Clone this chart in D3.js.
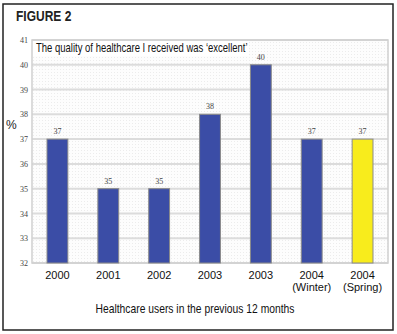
<!DOCTYPE html>
<html>
<head>
<meta charset="utf-8">
<script src="https://cdn.jsdelivr.net/npm/d3@7"></script>
<style>
  body { margin: 0; background: #fff; }
  .narrow { font-family: "Liberation Sans Narrow", "Arial Narrow", "Liberation Sans", sans-serif; }
  .serif { font-family: "Liberation Serif", "DejaVu Serif", serif; }
</style>
</head>
<body>
<div id="chart"></div>
<script>
// data
var categories = ["2000", "2001", "2002", "2003a", "2003b", "2004w", "2004s"];
var catLines = [["2000"], ["2001"], ["2002"], ["2003"], ["2003"], ["2004", "(Winter)"], ["2004", "(Spring)"]];
var values = [37, 35, 35, 38, 40, 37, 37];
var barColors = ["#3b4da6", "#3b4da6", "#3b4da6", "#3b4da6", "#3b4da6", "#3b4da6", "#f8ec1c"];
var yTicks = [32, 33, 34, 35, 36, 37, 38, 39, 40, 41];

var width = 397;
var height = 334;

var plotLeft = 32;
var plotRight = 388;
var plotTop = 40;
var plotBottom = 263;

var svg = d3.select("#chart")
  .append("svg")
  .attr("width", width)
  .attr("height", height);

// outer frame
svg.append("rect")
  .attr("x", 3).attr("y", 4)
  .attr("width", 390).attr("height", 326)
  .attr("fill", "none")
  .attr("stroke", "#222")
  .attr("stroke-width", 1.5);

svg.append("text")
  .attr("transform", "translate(16,21) scale(0.8,1)")
  .attr("class", "narrow")
  .attr("font-size", 15)
  .attr("font-weight", "bold")
  .attr("fill", "#222")
  .text("FIGURE 2");

// scales
var xScale = d3.scaleBand()
  .domain(categories)
  .range([plotLeft, plotRight])
  .paddingInner(0.59)
  .paddingOuter(0.295);

var yScale = d3.scaleLinear()
  .domain([32, 41])
  .range([plotBottom, plotTop]);

// plot background (light dotted)
var defs = svg.append("defs");
var pat = defs.append("pattern")
  .attr("id", "dots")
  .attr("width", 3).attr("height", 3)
  .attr("patternUnits", "userSpaceOnUse");
pat.append("rect").attr("width", 3).attr("height", 3).attr("fill", "#fdfdfd");
pat.append("rect").attr("width", 1).attr("height", 1).attr("fill", "#ececec");

svg.append("rect")
  .attr("x", plotLeft).attr("y", plotTop)
  .attr("width", plotRight - plotLeft)
  .attr("height", plotBottom - plotTop)
  .attr("fill", "url(#dots)");

// gridlines
svg.append("g")
  .selectAll("line")
  .data(yTicks)
  .enter()
  .append("line")
  .attr("x1", plotLeft).attr("x2", plotRight)
  .attr("y1", function(d) { return yScale(d); })
  .attr("y2", function(d) { return yScale(d); })
  .attr("stroke", "#dcdcdc")
  .attr("stroke-width", 2);

// plot border
svg.append("rect")
  .attr("x", plotLeft).attr("y", plotTop)
  .attr("width", plotRight - plotLeft)
  .attr("height", plotBottom - plotTop)
  .attr("fill", "none")
  .attr("stroke", "#d0d0d0")
  .attr("stroke-width", 1.5);

// y axis
var yAxis = d3.axisLeft(yScale).tickValues(yTicks).tickSize(0).tickPadding(4);
var yG = svg.append("g")
  .attr("transform", "translate(" + plotLeft + ",0)")
  .call(yAxis);
yG.select(".domain").remove();
yG.selectAll("text")
  .attr("class", "serif")
  .attr("font-size", 8)
  .attr("fill", "#444");

svg.append("text")
  .attr("x", 6).attr("y", 129)
  .attr("class", "narrow")
  .attr("font-size", 12)
  .attr("fill", "#222")
  .text("%");

// bars
svg.append("g")
  .selectAll("rect")
  .data(values)
  .enter()
  .append("rect")
  .attr("x", function(d, i) { return xScale(categories[i]); })
  .attr("y", function(d) { return yScale(d); })
  .attr("width", xScale.bandwidth())
  .attr("height", function(d) { return plotBottom - yScale(d); })
  .attr("fill", function(d, i) { return barColors[i]; })
  .attr("stroke", "#8a8a8a")
  .attr("stroke-width", 1);

// value labels
svg.append("g")
  .selectAll("text")
  .data(values)
  .enter()
  .append("text")
  .attr("class", "serif")
  .attr("x", function(d, i) { return xScale(categories[i]) + xScale.bandwidth() / 2; })
  .attr("y", function(d) { return yScale(d) - 5; })
  .attr("text-anchor", "middle")
  .attr("font-size", 8)
  .attr("fill", "#444")
  .text(function(d) { return d; });

// chart caption inside plot
svg.append("rect")
  .attr("x", plotLeft + 1).attr("y", plotTop + 1)
  .attr("width", 216).attr("height", 15)
  .attr("fill", "#fff");
svg.append("text")
  .attr("transform", "translate(36,52) scale(0.76,1)")
  .attr("class", "narrow")
  .attr("font-size", 12.5)
  .attr("fill", "#111")
  .text("The quality of healthcare I received was \u2018excellent\u2019");

// x labels
var xLab = svg.append("g")
  .selectAll("text")
  .data(categories)
  .enter()
  .append("text")
  .attr("class", "narrow")
  .attr("x", function(d) { return xScale(d) + xScale.bandwidth() / 2; })
  .attr("y", 279)
  .attr("text-anchor", "middle")
  .attr("font-size", 11)
  .attr("fill", "#111");
xLab.each(function(d, i) {
  var t = d3.select(this);
  catLines[i].forEach(function(line, j) {
    t.append("tspan")
      .attr("x", xScale(d) + xScale.bandwidth() / 2)
      .attr("dy", j === 0 ? 0 : 11.5)
      .text(line);
  });
});

// x axis title
svg.append("text")
  .attr("transform", "translate(195,313) scale(0.86,1)")
  .attr("class", "narrow")
  .attr("text-anchor", "middle")
  .attr("font-size", 12)
  .attr("fill", "#111")
  .text("Healthcare users in the previous 12 months");
</script>
</body>
</html>
